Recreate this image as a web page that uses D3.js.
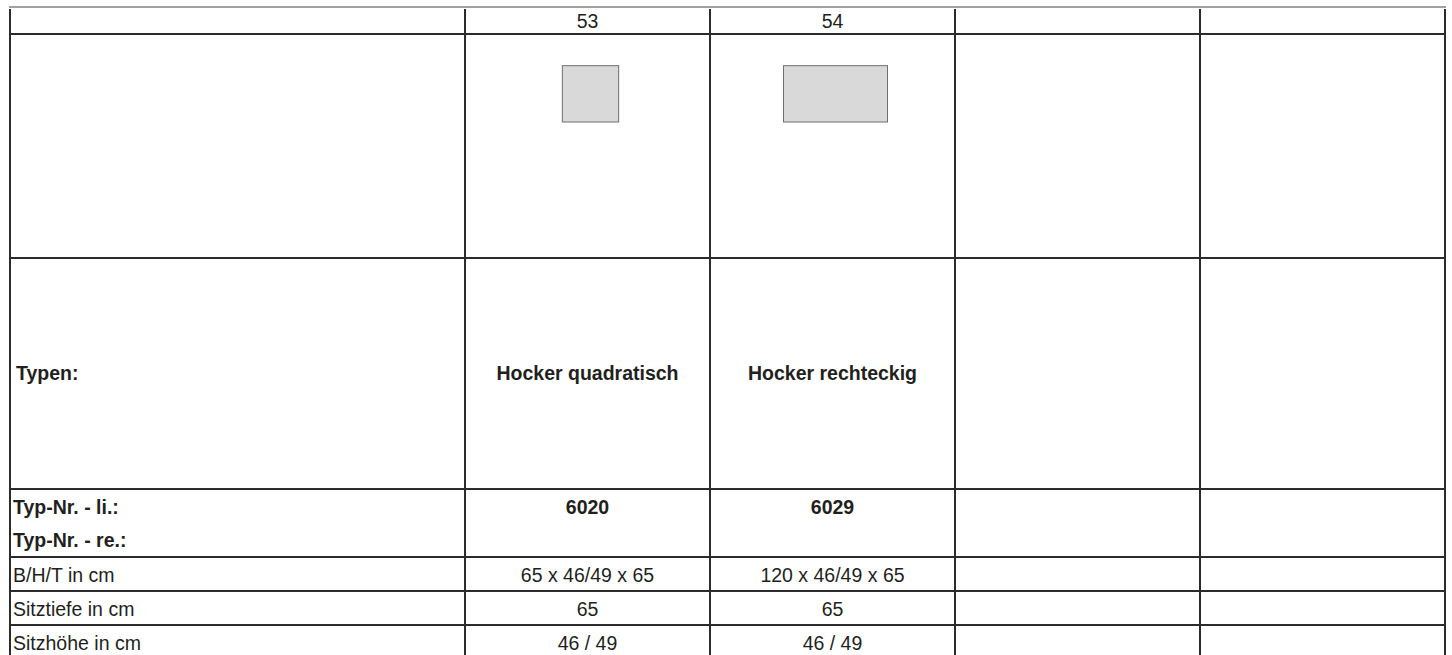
<!DOCTYPE html>
<html>
<head>
<meta charset="utf-8">
<script src="https://cdn.jsdelivr.net/npm/d3@7"></script>
<style>
  html, body { margin: 0; padding: 0; background: #ffffff; }
  svg { display: block; }
  text { font-family: "Liberation Sans", Arial, Helvetica, sans-serif; fill: #231f20; }
</style>
</head>
<body>
<div id="chart"></div>
<script>
// ---- data ----
const columnNumbers = ["53", "54", "", ""];
const typeNames = ["Hocker quadratisch", "Hocker rechteckig", "", ""];
const typNrLeft = ["6020", "6029", "", ""];
const typNrRight = ["", "", "", ""];
const widthCm = [65, 120, null, null];
const seatHeightCm = ["46/49", "46/49", null, null];
const depthCm = [65, 65, null, null];
const seatDepthLabels = ["65", "65", "", ""];
const seatHeightLabels = ["46 / 49", "46 / 49", "", ""];
const rowLabels = ["Typen:", "Typ-Nr. - li.:", "Typ-Nr. - re.:", "B/H/T in cm", "Sitztiefe in cm", "Sitzhöhe in cm"];

const bhtLabels = widthCm.map((w, i) => w == null ? "" : `${w} x ${seatHeightCm[i]} x ${depthCm[i]}`);

// ---- layout ----
const W = 1452, H = 655;
const left = 10, firstColRight = 465, right = 1445;
const lineColor = "#2b2b2b";
const fontSize = 19.5;

const svg = d3.select("#chart").append("svg").attr("width", W).attr("height", H);

// column scale for the product columns
const colX = d3.scaleBand().domain(d3.range(columnNumbers.length)).range([firstColRight, right]).paddingInner(0).paddingOuter(0);

// row boundaries
const rowEdges = [7, 34, 258, 489, 557, 591, 625, 659];

// icon scale (cm -> px)
const iconScale = d3.scaleLinear().domain([0, 120]).range([0, 104]);

// ---- grid lines ----
// top border (thin)
svg.append("line").attr("x1", left - 1).attr("x2", right + 1).attr("y1", 7).attr("y2", 7)
  .attr("stroke", "#444").attr("stroke-width", 1.2);

svg.selectAll("line.h").data(rowEdges.slice(1)).join("line").attr("class", "h")
  .attr("x1", left).attr("x2", right)
  .attr("y1", d => d).attr("y2", d => d)
  .attr("stroke", lineColor).attr("stroke-width", 2);

const vEdges = [left, firstColRight].concat(d3.range(1, columnNumbers.length + 1).map(i => colX(i - 1) + colX.bandwidth()));
svg.selectAll("line.v").data(vEdges).join("line").attr("class", "v")
  .attr("x1", d => d).attr("x2", d => d)
  .attr("y1", 9).attr("y2", H + 5)
  .attr("stroke", lineColor).attr("stroke-width", 2);

const cx = i => colX(i) + colX.bandwidth() / 2;

// ---- header numbers ----
svg.selectAll("text.num").data(columnNumbers).join("text").attr("class", "num")
  .attr("x", (d, i) => cx(i)).attr("y", 28)
  .attr("text-anchor", "middle").attr("font-size", fontSize)
  .text(d => d);

// ---- icons ----
const icons = widthCm.map((w, i) => ({ i, w, d: depthCm[i] })).filter(o => o.w != null);
const iconBottom = 122;
svg.selectAll("rect.icon").data(icons).join("rect").attr("class", "icon")
  .attr("x", o => cx(o.i) + 3 - iconScale(o.w) / 2)
  .attr("y", o => iconBottom - iconScale(o.d))
  .attr("width", o => iconScale(o.w))
  .attr("height", o => iconScale(o.d))
  .attr("fill", "#d9d9d9").attr("stroke", "#6f6f6f").attr("stroke-width", 1);

// ---- row labels ----
const labelY = [380, 514, 547, 582, 616, 650];
const labelBold = [true, true, true, false, false, false];
const labelX = [16, 13, 13, 13, 13, 13];
svg.selectAll("text.rowlabel").data(rowLabels).join("text").attr("class", "rowlabel")
  .attr("x", (d, i) => labelX[i]).attr("y", (d, i) => labelY[i])
  .attr("font-size", fontSize)
  .attr("font-weight", (d, i) => labelBold[i] ? "bold" : "normal")
  .text(d => d);

// ---- cell contents ----
const rowsContent = [
  { values: typeNames, y: labelY[0], bold: true },
  { values: typNrLeft, y: labelY[1], bold: true },
  { values: typNrRight, y: labelY[2], bold: true },
  { values: bhtLabels, y: labelY[3], bold: false },
  { values: seatDepthLabels, y: labelY[4], bold: false },
  { values: seatHeightLabels, y: labelY[5], bold: false }
];
rowsContent.forEach((r, ri) => {
  svg.selectAll(`text.cell${ri}`).data(r.values).join("text").attr("class", `cell${ri}`)
    .attr("x", (d, i) => cx(i)).attr("y", r.y)
    .attr("text-anchor", "middle").attr("font-size", fontSize)
    .attr("font-weight", r.bold ? "bold" : "normal")
    .text(d => d);
});
</script>
</body>
</html>
